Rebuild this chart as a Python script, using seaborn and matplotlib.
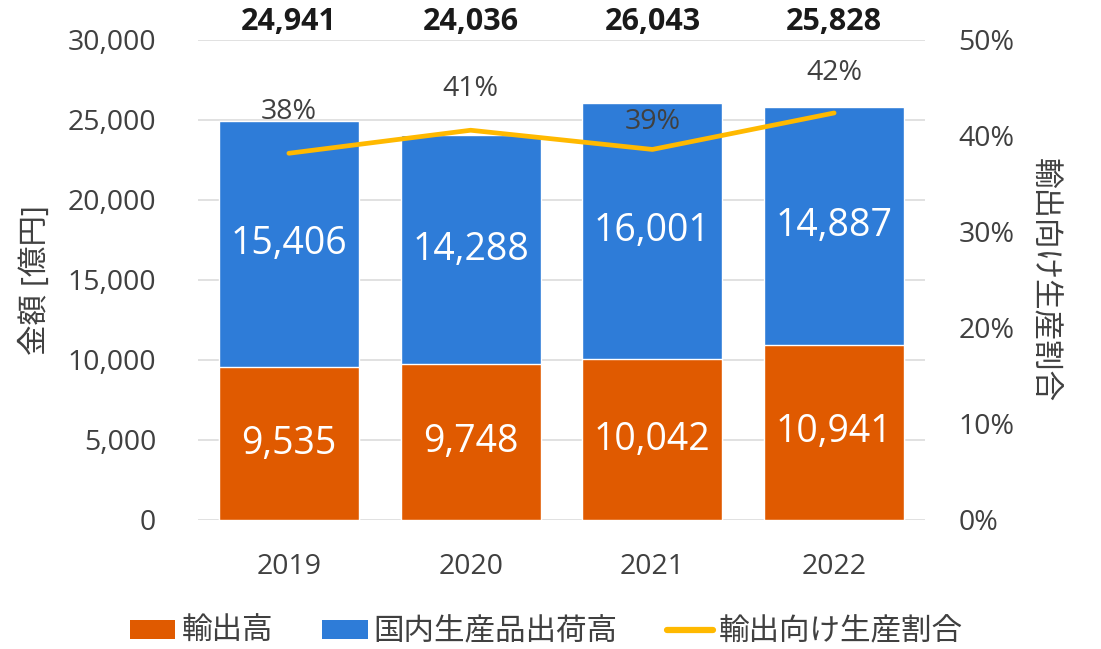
import matplotlib
matplotlib.use("Agg")
import matplotlib.pyplot as plt
import seaborn as sns
import pandas as pd
from matplotlib.patches import Patch
from matplotlib.lines import Line2D
from matplotlib.ticker import FuncFormatter, MultipleLocator

# ---- data ----
years = ["2019", "2020", "2021", "2022"]
export_vals = [9535, 9748, 10042, 10941]
domestic_vals = [15406, 14288, 16001, 14887]
totals = [24941, 24036, 26043, 25828]
share_pct = [38.2, 40.6, 38.6, 42.4]
share_labels = ["38%", "41%", "39%", "42%"]

series_names = ["輸出高", "国内生産品出荷高", "輸出向け生産割合"]
left_label = "金額 [億円]"
right_label = "輸出向け生産割合"

# ---- style ----
ORANGE = "#E05A00"
BLUE = "#2E7CD8"
YELLOW = "#FFB900"
TXT = "#404040"
GRID = "#D9D9D9"

sns.set_theme(style="white")
plt.rcParams["font.family"] = ["Open Sans", "Noto Sans CJK JP", "DejaVu Sans"]

fig = plt.figure(figsize=(11.01, 6.49), dpi=100)
ax = fig.add_axes([198 / 1101, 1 - 520 / 649, (925 - 198) / 1101, (520 - 40) / 649])

df = pd.DataFrame({"year": years, "export": export_vals, "total": totals})

# stacked via overlay: full total in blue, export in orange on top
sns.barplot(data=df, x="year", y="total", color=BLUE, saturation=1,
            width=0.77, ax=ax, zorder=2)
sns.barplot(data=df, x="year", y="export", color=ORANGE, saturation=1,
            width=0.77, ax=ax, zorder=3)

ax.set_xlim(-0.5, 3.5)
ax.set_ylim(0, 30000)
ax.yaxis.set_major_locator(MultipleLocator(5000))
ax.yaxis.set_major_formatter(FuncFormatter(lambda v, p: f"{int(v):,}"))
ax.grid(axis="y", color=GRID, linewidth=1.1, zorder=0)
ax.set_axisbelow(True)
for s in ax.spines.values():
    s.set_visible(False)
ax.tick_params(axis="y", length=0, pad=30, labelsize=20.5, labelcolor=TXT)
ax.tick_params(axis="x", length=0, pad=24, labelsize=20.5, labelcolor=TXT)
ax.set_xlabel("")
ax.set_ylabel(left_label, fontsize=22, color=TXT, labelpad=12)

# segment labels
for i in range(len(years)):
    ax.text(i, export_vals[i] / 2, f"{export_vals[i]:,}", ha="center", va="center",
            color="white", fontsize=27, zorder=5)
    ax.text(i, export_vals[i] + domestic_vals[i] / 2, f"{domestic_vals[i]:,}",
            ha="center", va="center", color="white", fontsize=27, zorder=5)
    ax.annotate(f"{totals[i]:,}", xy=(i, 1), xycoords=("data", "axes fraction"),
                xytext=(0, 13), textcoords="offset points", ha="center", va="center",
                fontsize=22, fontweight="bold", color="#1a1a1a")

# secondary axis
ax2 = ax.twinx()
sns.lineplot(x=list(range(len(years))), y=[v / 100 for v in share_pct], ax=ax2,
             color=YELLOW, linewidth=3.4, zorder=6)
ax2.set_ylim(0, 0.5)
ax2.set_xlim(-0.5, 3.5)
ax2.yaxis.set_major_locator(MultipleLocator(0.1))
ax2.yaxis.set_major_formatter(FuncFormatter(lambda v, p: f"{v * 100:.0f}%"))
ax2.tick_params(axis="y", length=0, pad=24, labelsize=20.5, labelcolor=TXT)
for s in ax2.spines.values():
    s.set_visible(False)
ax2.grid(False)
ax2.set_ylabel(right_label, fontsize=22, color=TXT, rotation=270, labelpad=32)

label_offsets = [30, 30, 20, 29]
for i in range(len(years)):
    ax2.annotate(share_labels[i], xy=(i, share_pct[i] / 100), xytext=(0, label_offsets[i]),
                 textcoords="offset points", ha="center", va="center",
                 fontsize=20.5, color=TXT, zorder=7)

handles = [
    Patch(facecolor=ORANGE, edgecolor="none"),
    Patch(facecolor=BLUE, edgecolor="none"),
    Line2D([0], [0], color=YELLOW, linewidth=4.5),
]
fig.legend(handles, series_names, loc="center", bbox_to_anchor=(0.496, 0.026),
           ncol=3, frameon=False, fontsize=22, labelcolor=TXT,
           handlelength=1.5, handleheight=0.6, handletextpad=0.2,
           columnspacing=1.6)

fig.savefig("out.png", dpi=100, facecolor="white")
